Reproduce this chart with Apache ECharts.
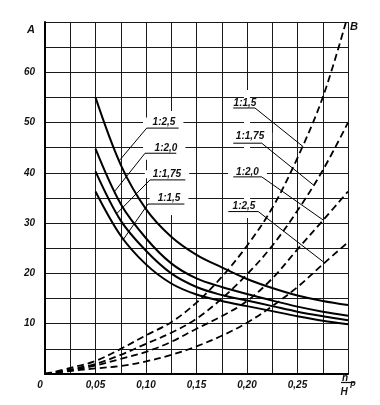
<!DOCTYPE html>
<html><head><meta charset="utf-8">
<script src="https://cdn.jsdelivr.net/npm/echarts@6/dist/echarts.min.js"></script>
<style>html,body{margin:0;padding:0;background:#fff}#c{width:380px;height:405px}</style>
</head><body><div id="c"></div>
<script>
// ---- data ----
const hA = [0.05, 0.075, 0.1, 0.125, 0.15, 0.175, 0.2, 0.225, 0.25, 0.275, 0.3];
const A_1_25  = [55.0, 41.6, 32.8, 27.3, 23.7, 21.2, 18.9, 17.1, 15.6, 14.5, 13.7];
const A_1_20  = [44.8, 33.8, 27.0, 22.0, 19.0, 17.3, 15.9, 14.6, 13.4, 12.4, 11.6];
const A_1_175 = [40.3, 30.5, 24.5, 20.0, 17.3, 15.7, 14.6, 13.5, 12.4, 11.5, 10.7];
const A_1_15  = [36.3, 27.5, 21.8, 18.0, 15.8, 14.5, 13.5, 12.5, 11.5, 10.6, 9.9];

const hB    = [0, 0.025, 0.05, 0.075, 0.1, 0.125, 0.15, 0.175, 0.2, 0.225, 0.25, 0.275, 0.3];
const hB_15 = [0, 0.025, 0.05, 0.075, 0.1, 0.125, 0.15, 0.175, 0.2, 0.225, 0.25, 0.275, 0.298];
const B_1_15  = [0, 1.2, 2.6, 5.0, 7.7, 10.3, 14.2, 19.3, 25.5, 33.0, 43.0, 55.0, 70.0];
const B_1_175 = [0, 0.9, 2.0, 3.8, 6.0, 8.2, 11.0, 15.0, 19.8, 25.5, 32.5, 40.5, 50.0];
const B_1_20  = [0, 0.7, 1.7, 3.0, 4.4, 6.4, 9.0, 11.5, 14.5, 19.0, 24.8, 30.5, 36.3];
const B_1_25  = [0, 0.6, 1.1, 1.6, 2.5, 3.8, 5.5, 7.6, 10.2, 13.5, 17.3, 21.8, 26.2];

const xTickValues = [0, 0.05, 0.1, 0.15, 0.2, 0.25];
const xTickTexts  = ['0', '0,05', '0,10', '0,15', '0,20', '0,25'];
const yTickValues = [10, 20, 30, 40, 50, 60, 70];
const yTickTexts  = ['10', '20', '30', '40', '50', '60', 'A'];

// curve labels: text, text anchor, underline [x0,x1,y], leader end on curve
const leftLabels = [
  {t: '1:2,5',  at: [0.1178, 50.0], ul: [0.1007, 0.1323, 48.9], to: [0.0743, 42.6]},
  {t: '1:2,0',  at: [0.1198, 44.9], ul: [0.0990, 0.1300, 43.9], to: [0.0693, 36.4]},
  {t: '1:1,75', at: [0.1208, 39.7], ul: [0.1040, 0.1390, 38.6], to: [0.0710, 31.9]},
  {t: '1:1,5',  at: [0.1228, 34.9], ul: [0.1020, 0.1380, 33.8], to: [0.0770, 26.6]}
];
const rightLabels = [
  {t: '1:1,5',  at: [0.1980, 53.9], ul: [0.1864, 0.2079, 52.9], to: [0.2557, 45.2]},
  {t: '1:1,75', at: [0.2030, 47.2], ul: [0.1864, 0.2146, 45.9], to: [0.2657, 37.6]},
  {t: '1:2,0',  at: [0.2005, 40.2], ul: [0.1864, 0.2146, 39.2], to: [0.2756, 30.6]},
  {t: '1:2,5',  at: [0.1970, 33.4], ul: [0.1815, 0.2112, 32.3], to: [0.2756, 22.3]}
];
// gaps in grid lines around labels [x0,x1,y0,y1]
const gridGaps = [
  [0.097, 0.103, 42.6, 51.0],
  [0.122, 0.128, 31.6, 52.3],
  [0.197, 0.203, 31.0, 56.5]
];

const FONT = 'Liberation Sans';
const zip = (xs, ys) => xs.map((x, i) => [x, ys[i]]);
const chart = echarts.init(document.getElementById('c'), null, {renderer: 'canvas'});

function solid(name, xs, ys) {
  return {name, type: 'line', data: zip(xs, ys), smooth: 0.35, symbol: 'none', silent: true,
    lineStyle: {color: '#000', width: 2}, z: 3};
}
function dashed(name, xs, ys) {
  return {name, type: 'line', data: zip(xs, ys), smooth: 0.35, symbol: 'none', silent: true,
    lineStyle: {color: '#000', width: 1.8, type: [7, 4]}, z: 3};
}
function leader(l, left) {
  const pts = left
    ? [l.to, [l.ul[0], l.ul[2]], [l.ul[1], l.ul[2]]]
    : [[l.ul[0], l.ul[2]], [l.ul[1], l.ul[2]], l.to];
  return {type: 'line', data: pts, symbol: 'none', silent: true,
    lineStyle: {color: '#000', width: 1}, z: 3};
}
const labelStyle = {fontFamily: FONT, fontStyle: 'italic', fontWeight: 'bold', fontSize: 10, color: '#111'};

const series = [
  solid('A 1:2,5', hA, A_1_25), solid('A 1:2,0', hA, A_1_20),
  solid('A 1:1,75', hA, A_1_175), solid('A 1:1,5', hA, A_1_15),
  dashed('B 1:1,5', hB_15, B_1_15), dashed('B 1:1,75', hB, B_1_175),
  dashed('B 1:2,0', hB, B_1_20), dashed('B 1:2,5', hB, B_1_25)
];
leftLabels.forEach(l => series.push(leader(l, true)));
rightLabels.forEach(l => series.push(leader(l, false)));

const near = (a, b) => Math.abs(a - b) < 1e-6;
chart.setOption({
  animation: false,
  backgroundColor: '#fff',
  grid: {left: 45, right: 32, top: 22, bottom: 31},
  xAxis: {
    type: 'value', min: 0, max: 0.3, interval: 0.025,
    axisLine: {show: true, onZero: false, lineStyle: {color: '#000', width: 2}},
    axisTick: {show: false},
    splitLine: {show: true, lineStyle: {color: '#1a1a1a', width: 1}},
    axisLabel: {
      margin: 6, ...labelStyle,
      formatter: v => {
        const i = xTickValues.findIndex(t => near(t, v));
        if (i < 0) return '';
        return i === 0 ? '{z|' + xTickTexts[i] + '}' : xTickTexts[i];
      },
      rich: {z: {...labelStyle, padding: [0, 10, 0, 0]}}
    }
  },
  yAxis: [{
    type: 'value', min: 0, max: 70, interval: 5,
    axisLine: {show: true, onZero: false, lineStyle: {color: '#000', width: 2}},
    axisTick: {show: false},
    splitLine: {show: true, lineStyle: {color: '#1a1a1a', width: 1}},
    axisLabel: {
      margin: 10, ...labelStyle,
      formatter: v => {
        const i = yTickValues.findIndex(t => near(t, v));
        if (i < 0) return '';
        return v === 70 ? '{a|' + yTickTexts[i] + '}' : yTickTexts[i];
      },
      rich: {a: {...labelStyle, fontSize: 11, padding: [16, 0, 0, 0]}}
    }
  }, {
    type: 'value', min: 0, max: 70, interval: 5, position: 'right',
    axisLine: {show: false}, axisTick: {show: false}, splitLine: {show: false},
    axisLabel: {
      margin: 2, ...labelStyle,
      formatter: v => v === 70 ? '{b|B}' : '',
      rich: {b: {...labelStyle, fontSize: 11, padding: [10, 0, 0, 0]}}
    }
  }],
  series
});

// ---- annotations positioned through the grid's scales ----
const px = p => chart.convertToPixel({gridIndex: 0}, p);
const ctx = document.createElement('canvas').getContext('2d');
const tfont = 'italic bold 10px "' + FONT + '"';
ctx.font = tfont;
const g = [];
gridGaps.forEach(r => {
  const a = px([r[0], r[3]]), b = px([r[1], r[2]]);
  g.push({type: 'rect', z: 1, silent: true,
    shape: {x: a[0], y: a[1], width: b[0] - a[0], height: b[1] - a[1]},
    style: {fill: '#fff'}});
});
leftLabels.concat(rightLabels).forEach(l => {
  const c = px(l.at);
  const w = ctx.measureText(l.t).width;
  g.push({type: 'rect', z: 1, silent: true,
    shape: {x: c[0] - w / 2 - 8, y: c[1] - 4, width: w + 16, height: 8},
    style: {fill: '#fff'}});
  g.push({type: 'text', z: 10, silent: true, x: c[0], y: c[1],
    style: {text: l.t, fill: '#111', font: tfont, align: 'center', verticalAlign: 'middle'}});
});
// h_p / H fraction at the end of the x axis
const e = px([0.3, 0]);
g.push({type: 'text', z: 10, silent: true, x: e[0] - 3, y: e[1] + 4,
  style: {text: 'h', fill: '#111', font: tfont, align: 'center', verticalAlign: 'middle'}});
g.push({type: 'line', z: 10, silent: true,
  shape: {x1: e[0] - 7, y1: e[1] + 8.5, x2: e[0] + 6, y2: e[1] + 8.5},
  style: {stroke: '#111', lineWidth: 1.2}});
g.push({type: 'text', z: 10, silent: true, x: e[0] - 4, y: e[1] + 18,
  style: {text: 'H', fill: '#111', font: tfont, align: 'center', verticalAlign: 'middle'}});
g.push({type: 'text', z: 10, silent: true, x: e[0] + 5, y: e[1] + 10,
  style: {text: 'р', fill: '#111', font: 'italic bold 9px "' + FONT + '"', align: 'center', verticalAlign: 'middle'}});
chart.setOption({graphic: g});
</script>
</body></html>
